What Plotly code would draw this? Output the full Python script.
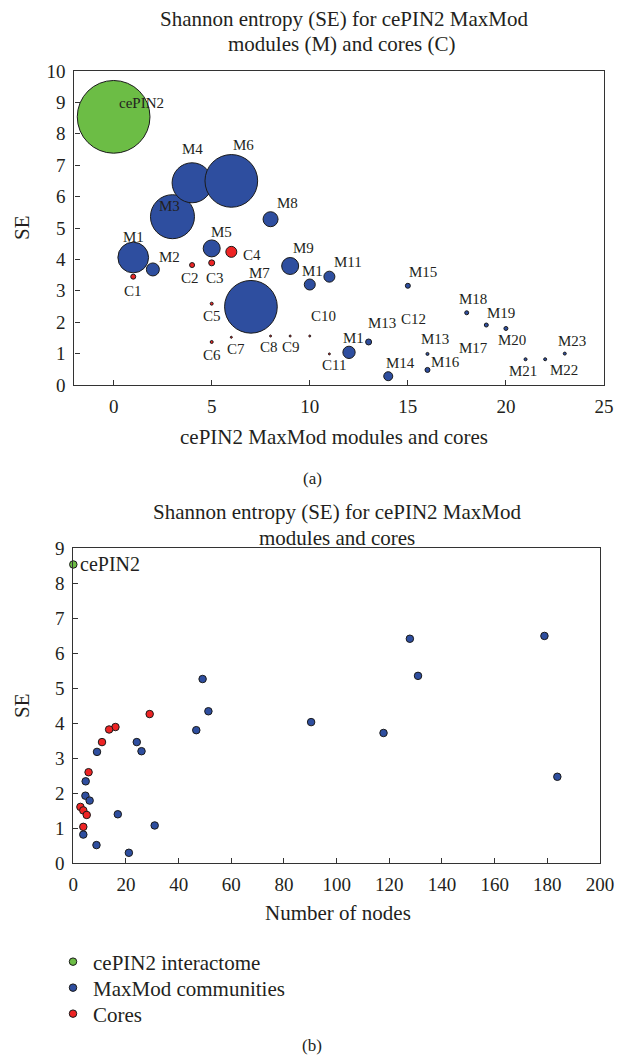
import plotly.graph_objects as go

# page is 625x1063; body has an 8px margin, so the figure itself is 609x1047
PAGE_OFF = 8
FW, FH = 609, 1047
def px(x): return (x - PAGE_OFF) / FW
def py(y): return 1 - (y - PAGE_OFF) / FH

FONT = "Liberation Serif"
TXT = "#231f20"
GREEN = "#6cbd45"
BLUE = "#2e4e9f"
RED = "#ee2424"
EDGE = "#1a1a1a"

# ---------------- Panel (a): bubble chart ----------------
a_net_label = ["cePIN2"]
a_net_x = [0]
a_net_se = [8.54]
a_net_bubble = [72.7]

a_mod_label = ["M1", "M2", "M3", "M4", "M5", "M6", "M7", "M8", "M9", "M1", "M11", "M1",
               "M13", "M14", "M15", "M16", "M13", "M17", "M18", "M19", "M20", "M21", "M22", "M23"]
a_mod_x = [1, 2, 3, 4, 5, 6, 7, 8, 9, 10, 11, 12, 13, 14, 15, 16, 16, 17, 18, 19, 20, 21, 22, 23]
a_mod_se = [4.06, 3.68, 5.36, 6.44, 4.35, 6.50, 2.49, 5.28, 3.79, 3.20, 3.45, 1.04,
            1.37, 0.28, 3.16, 0.48, 0.99, 0.85, 2.30, 1.91, 1.80, 0.82, 0.82, 1.00]
a_mod_bubble = [30.7, 13, 44, 40, 17, 52.7, 52.7, 15, 17, 11, 11, 12.3,
                6, 9, 5, 5, 3, 0, 4, 4, 4, 3, 3, 3]

a_core_label = ["C1", "C2", "C3", "C4", "C5", "C6", "C7", "C8", "C9", "C10", "C11", "C12"]
a_core_x = [1, 4, 5, 6, 5, 5, 6, 8, 9, 10, 11, 15]
a_core_se = [3.45, 3.82, 3.89, 4.24, 2.59, 1.37, 1.52, 1.56, 1.56, 1.56, 0.99, 1.45]
a_core_bubble = [5, 5, 6, 11, 3, 3, 2, 2, 2, 2, 2, 0]

# label offsets (px, screen: +dx right, +dy down)
net_off = [(28, -14)]
mod_off = [(0, -21), (17, -12), (-3, -11), (0, -34), (10, -16), (12, -36), (9, -34), (17, -16),
           (13, -18), (3, -14), (19, -15), (4, -14), (13, -19), (12, -13), (15, -14), (18, -8),
           (8, -15), (26, -10), (6, -14), (15, -12), (6, 12), (-3, 12), (19, 11), (7, -13)]
core_off = [(0, 14), (-2, 13), (3, 15), (21, 3), (0, 12), (0, 13), (5, 12), (-2, 11), (1, 11),
            (14, -20), (5, 11), (6, -20)]

# ---------------- Panel (b): SE vs number of nodes ----------------
b_net_nodes = [0]
b_net_se = [8.53]
b_mod_nodes = [49.1, 51.3, 46.7, 24.1, 25.9, 9.0, 4.7, 4.6, 6.2, 16.9, 30.9, 3.8, 8.8, 21.1,
               178.9, 127.8, 130.9, 90.3, 117.8, 183.8]
b_mod_se = [5.26, 4.34, 3.80, 3.46, 3.20, 3.18, 2.34, 1.93, 1.79, 1.40, 1.08, 0.82, 0.52, 0.30,
            6.49, 6.41, 5.35, 4.03, 3.72, 2.47]
b_core_nodes = [29.0, 16.0, 13.6, 10.9, 5.8, 2.7, 3.8, 5.1, 3.8]
b_core_se = [4.26, 3.89, 3.82, 3.46, 2.60, 1.61, 1.51, 1.38, 1.04]

legend_names = ["cePIN2 interactome", "MaxMod communities", "Cores"]

fig = go.Figure()

def bubbles(xs, ys, sizes, color):
    vis_x = [x for x, s in zip(xs, sizes) if s > 0]
    vis_y = [y for y, s in zip(ys, sizes) if s > 0]
    vis_s = [s for s in sizes if s > 0]
    return go.Scatter(x=vis_x, y=vis_y, mode="markers", xaxis="x", yaxis="y",
                      marker=dict(size=vis_s, sizemode="diameter", sizeref=1, color=color,
                                  line=dict(color=EDGE, width=1), opacity=1),
                      showlegend=False, hoverinfo="skip", cliponaxis=False)

fig.add_trace(bubbles(a_net_x, a_net_se, a_net_bubble, GREEN))
fig.add_trace(bubbles(a_mod_x, a_mod_se, a_mod_bubble, BLUE))
fig.add_trace(bubbles(a_core_x, a_core_se, a_core_bubble, RED))

ann = []
def labels(names, xs, ys, offs, xref, yref, size=15):
    for n, x, y, (dx, dy) in zip(names, xs, ys, offs):
        ann.append(dict(x=x, y=y, xref=xref, yref=yref, text=n, showarrow=False,
                        xanchor="center", yanchor="middle",
                        xshift=dx, yshift=-dy, font=dict(family=FONT, size=size, color=TXT)))

labels(a_net_label, a_net_x, a_net_se, net_off, "x", "y", 15)
labels(a_mod_label, a_mod_x, a_mod_se, mod_off, "x", "y")
labels(a_core_label, a_core_x, a_core_se, core_off, "x", "y")

# Panel (b) traces, each with its own legend row
legend_ids = ["legend", "legend2", "legend3"]
for name, xs, ys, col, lg in [(legend_names[0], b_net_nodes, b_net_se, GREEN, legend_ids[0]),
                              (legend_names[1], b_mod_nodes, b_mod_se, BLUE, legend_ids[1]),
                              (legend_names[2], b_core_nodes, b_core_se, RED, legend_ids[2])]:
    fig.add_trace(go.Scatter(x=xs, y=ys, mode="markers", name=name, xaxis="x2", yaxis="y2",
                             legend=lg,
                             marker=dict(size=7.5, color=col, line=dict(color=EDGE, width=1)),
                             cliponaxis=False, hoverinfo="skip"))

ann.append(dict(x=b_net_nodes[0], y=b_net_se[0], xref="x2", yref="y2", text="cePIN2",
                showarrow=False, xanchor="left", yanchor="middle", xshift=5, yshift=0,
                font=dict(family=FONT, size=20, color=TXT)))

def txt(x, y, t, size, angle=0):
    ann.append(dict(x=px(x), y=py(y), xref="paper", yref="paper", text=t, showarrow=False,
                    xanchor="center", yanchor="middle",
                    textangle=angle, font=dict(family=FONT, size=size, color=TXT)))

txt(344, 19, "Shannon entropy (SE) for cePIN2 MaxMod", 21)
txt(341, 44, "modules (M) and cores (C)", 21)
txt(334, 437, "cePIN2 MaxMod modules and cores", 21)
txt(22, 228, "SE", 21, -90)
txt(312, 478, "(a)", 17)
txt(337, 512, "Shannon entropy (SE) for cePIN2 MaxMod", 21)
txt(337, 538, "modules and cores", 21)
txt(338, 913, "Number of nodes", 21)
txt(22, 706, "SE", 21, -90)
txt(312, 1045, "(b)", 17)

axis_common = dict(showgrid=False, zeroline=False, showline=True, mirror=True,
                   linecolor="#333333", linewidth=1.2, ticks="inside", ticklen=5,
                   tickcolor="#333333", tickfont=dict(family=FONT, size=19, color=TXT),
                   automargin=False)

leg_rows = [962, 988, 1014]
def leg(y):
    return dict(x=px(53), y=py(y), xanchor="left", yanchor="middle",
                font=dict(family=FONT, size=21, color=TXT), itemsizing="trace",
                bgcolor="rgba(0,0,0,0)")

fig.update_layout(
    width=FW, height=FH, margin=dict(l=0, r=0, t=0, b=0),
    paper_bgcolor="white", plot_bgcolor="white",
    xaxis=dict(domain=[px(74.4), px(604)], range=[-2, 25], tickvals=[0, 5, 10, 15, 20, 25],
               anchor="y", ticklabelstandoff=4, **axis_common),
    yaxis=dict(domain=[py(385), py(71)], range=[0, 10], dtick=1, anchor="x",
               ticklabelstandoff=4, **axis_common),
    xaxis2=dict(domain=[px(73.3), px(600)], range=[0, 200], dtick=20, anchor="y2",
                ticklabelstandoff=4, **axis_common),
    yaxis2=dict(domain=[py(863.3), py(548)], range=[0, 9], dtick=1, anchor="x2",
                ticklabelstandoff=4, **axis_common),
    annotations=ann,
    showlegend=True,
    legend=leg(leg_rows[0]),
    legend2=leg(leg_rows[1]),
    legend3=leg(leg_rows[2]),
)

fig.write_html("out.html")
